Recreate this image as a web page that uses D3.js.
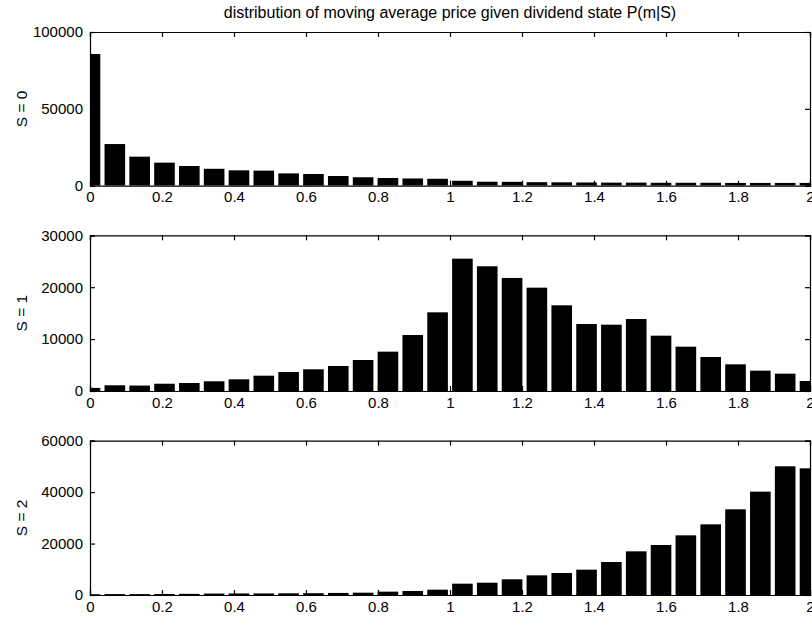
<!DOCTYPE html>
<html>
<head>
<meta charset="utf-8">
<script src="https://cdn.jsdelivr.net/npm/d3@7"></script>
<style>
  html, body { margin: 0; padding: 0; background: #fff; }
  svg { display: block; }
  text { font-family: "Liberation Sans", Arial, Helvetica, sans-serif; fill: #000; }
</style>
</head>
<body>
<svg id="chart" width="812" height="619"></svg>
<script>
// Histogram counts of the moving-average price, one row per dividend state S
const binCount = 30;
const xMax = 2;
const binCenters = d3.range(binCount).map(k => k * xMax / (binCount - 1));

const countsS0 = [85700, 27100, 18900, 15000, 12800, 11000, 10000, 9800, 8000, 7600,
                  6300, 5500, 5000, 4700, 4500, 3200, 2600, 2500, 2300, 2200,
                  2100, 2000, 2000, 1900, 1900, 1900, 1800, 1800, 1800, 1800];
const countsS1 = [600, 1100, 1050, 1400, 1540, 1870, 2250, 2950, 3660, 4180,
                  4820, 5970, 7580, 10790, 15160, 25500, 24030, 21780, 19910, 16510,
                  12910, 12780, 13870, 10660, 8540, 6550, 5140, 3920, 3340, 1930];
const countsS2 = [300, 350, 350, 400, 450, 550, 600, 600, 650, 700,
                  800, 900, 1300, 1560, 2070, 4400, 4790, 6100, 7650, 8560,
                  9850, 12830, 16980, 19440, 23200, 27480, 33320, 40190, 50040, 49260];

const xTicks = [0, 0.2, 0.4, 0.6, 0.8, 1, 1.2, 1.4, 1.6, 1.8, 2];
const yTicksS0 = [0, 50000, 100000];
const yTicksS1 = [0, 10000, 20000, 30000];
const yTicksS2 = [0, 20000, 40000, 60000];

const titleText = "distribution of moving average price given dividend state P(m|S)";

const panels = [
  { label: "S = 0", counts: countsS0, yMax: 100000, yTicks: yTicksS0, top: 32,  bottom: 185.7 },
  { label: "S = 1", counts: countsS1, yMax: 30000,  yTicks: yTicksS1, top: 235.3, bottom: 391 },
  { label: "S = 2", counts: countsS2, yMax: 60000,  yTicks: yTicksS2, top: 440.7, bottom: 595 }
];

const left = 90, right = 810;
const tickLen = 5;
const barFrac = 0.83;

const svg = d3.select("#chart");

const x = d3.scaleLinear().domain([0, xMax]).range([left, right]);
const binStep = x(binCenters[1]) - x(binCenters[0]);
const barW = binStep * barFrac;

svg.append("text")
  .attr("x", (left + right) / 2)
  .attr("y", 18)
  .attr("text-anchor", "middle")
  .style("font-size", "16px")
  .text(titleText);

const fmtX = d => d3.format("")(+d.toFixed(1));

panels.forEach((p, i) => {
  const y = d3.scaleLinear().domain([0, p.yMax]).range([p.bottom, p.top]);
  const g = svg.append("g").attr("class", "panel-" + i);

  const clipId = "clip" + i;
  g.append("clipPath").attr("id", clipId)
    .append("rect")
    .attr("x", left).attr("y", p.top)
    .attr("width", right - left).attr("height", p.bottom - p.top);

  g.append("g").attr("clip-path", `url(#${clipId})`)
    .selectAll("rect")
    .data(p.counts)
    .join("rect")
    .attr("x", (d, k) => x(binCenters[k]) - barW / 2)
    .attr("width", barW)
    .attr("y", d => y(d))
    .attr("height", d => p.bottom - y(d))
    .attr("fill", "#000");

  // bottom axis with labels, ticks pointing inward
  const axB = g.append("g")
    .attr("transform", `translate(0,${p.bottom})`)
    .call(d3.axisBottom(x).tickValues(xTicks).tickSize(-tickLen).tickPadding(6).tickFormat(fmtX));
  // top axis, ticks only
  const axT = g.append("g")
    .attr("transform", `translate(0,${p.top})`)
    .call(d3.axisTop(x).tickValues(xTicks).tickSize(-tickLen).tickFormat(""));
  // left axis with labels
  const axL = g.append("g")
    .attr("transform", `translate(${left},0)`)
    .call(d3.axisLeft(y).tickValues(p.yTicks).tickSize(-tickLen).tickPadding(7).tickFormat(d3.format("d")));
  // right axis, ticks only
  const axR = g.append("g")
    .attr("transform", `translate(${right},0)`)
    .call(d3.axisRight(y).tickValues(p.yTicks).tickSize(-tickLen).tickFormat(""));

  [axB, axT, axL, axR].forEach(a => {
    a.selectAll(".domain").attr("stroke", "#000").attr("stroke-width", 1.2);
    a.selectAll(".tick line").attr("stroke", "#000").attr("stroke-width", 1.2);
    a.selectAll(".tick text").style("font-size", "15px").attr("fill", "#000")
      .style("font-family", "'Liberation Sans', Arial, sans-serif");
  });

  g.append("text")
    .attr("transform", `translate(22,${(p.top + p.bottom) / 2}) rotate(-90)`)
    .attr("text-anchor", "middle")
    .attr("dy", "0.35em")
    .style("font-size", "15.5px")
    .text(p.label);
});
</script>
</body>
</html>
